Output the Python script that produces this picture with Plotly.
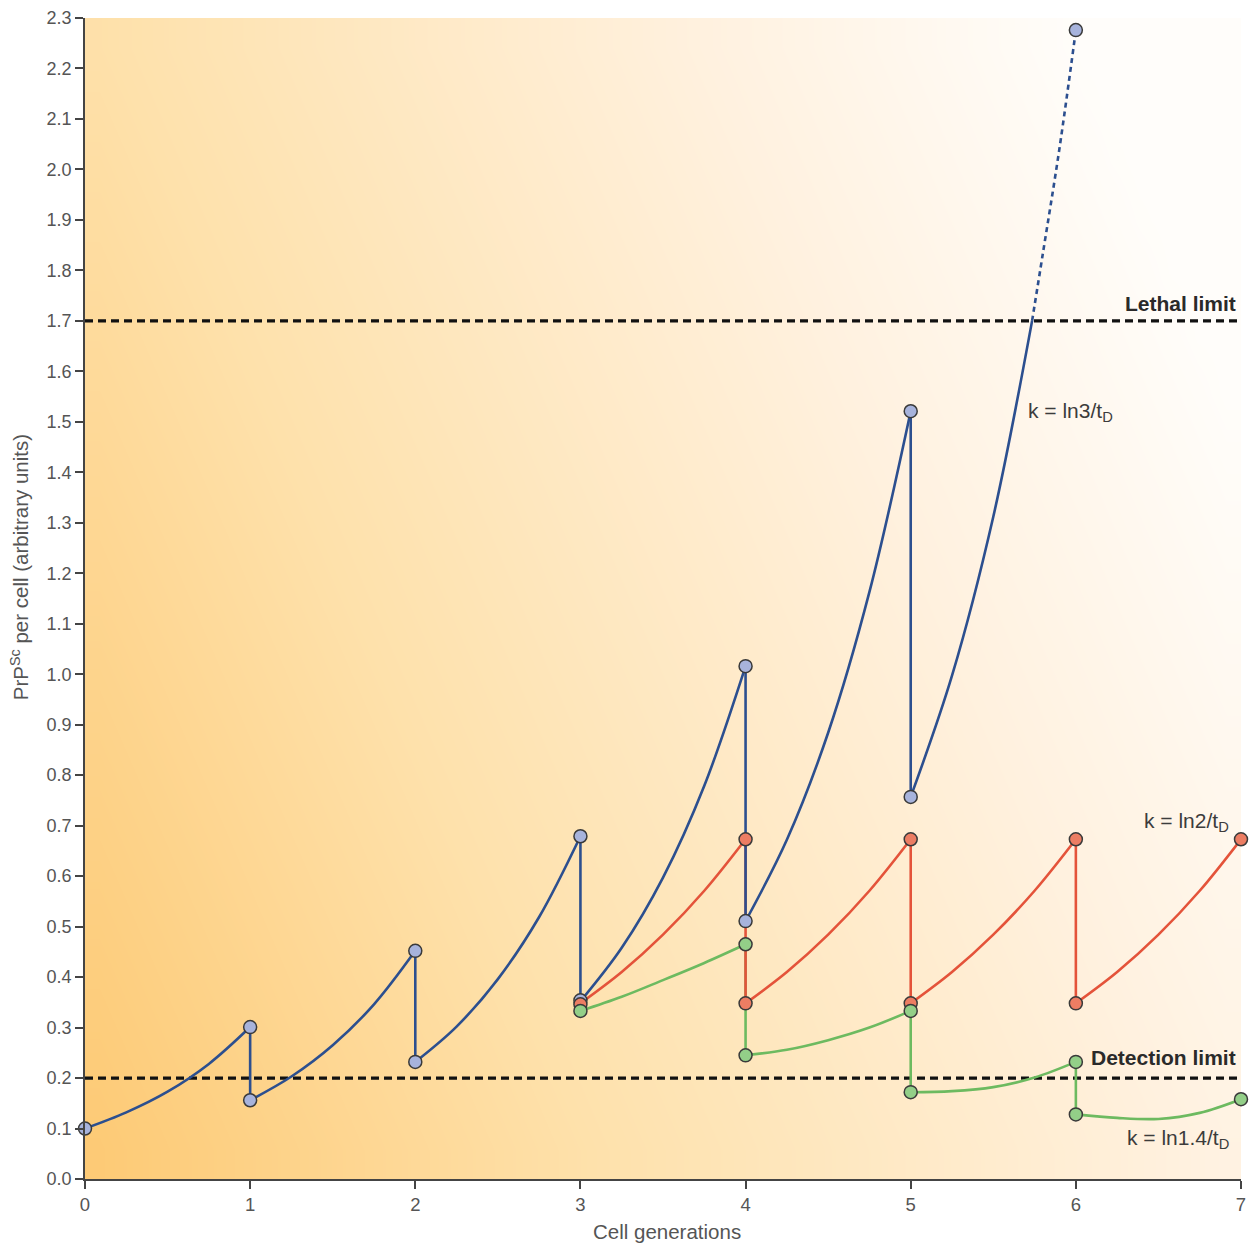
import numpy as np
import plotly.graph_objects as go

# ---------------- data ----------------
# Blue series k = ln3/tD : curve segments between generations (None separates segments)
blue_curve_x = [0, 0.25, 0.5, 0.75, 1, None,
                1, 1.25, 1.5, 1.75, 2, None,
                2, 2.25, 2.5, 2.75, 3, None,
                3, 3.25, 3.5, 3.75, 4, None,
                4, 4.25, 4.5, 4.75, 5, None,
                5, 5.25, 5.5, 5.735]
blue_curve_y = [0.100, 0.132, 0.173, 0.228, 0.301, None,
                0.156, 0.203, 0.265, 0.346, 0.452, None,
                0.232, 0.302, 0.396, 0.519, 0.679, None,
                0.352, 0.458, 0.597, 0.779, 1.016, None,
                0.511, 0.672, 0.884, 1.163, 1.521, None,
                0.757, 0.997, 1.312, 1.700]
blue_dashed_x = [5.735, 5.8, 5.9, 6.0]
blue_dashed_y = [1.700, 1.833, 2.040, 2.276]
blue_drop_x = [1, 1, None, 2, 2, None, 3, 3, None, 4, 4, None, 5, 5]
blue_drop_y = [0.301, 0.156, None, 0.452, 0.232, None, 0.679, 0.352, None,
               1.016, 0.511, None, 1.521, 0.757]
blue_marker_x = [0, 1, 1, 2, 2, 3, 3, 4, 4, 5, 5, 6]
blue_marker_y = [0.100, 0.301, 0.156, 0.452, 0.232, 0.679, 0.354, 1.016, 0.511,
                 1.521, 0.757, 2.276]

# Red series k = ln2/tD
red_curve_x = [3, 3.25, 3.5, 3.75, 4, None,
               4, 4.25, 4.5, 4.75, 5, None,
               5, 5.25, 5.5, 5.75, 6, None,
               6, 6.25, 6.5, 6.75, 7]
red_curve_y = [0.348, 0.410, 0.484, 0.571, 0.673, None,
               0.348, 0.410, 0.484, 0.571, 0.673, None,
               0.348, 0.410, 0.484, 0.571, 0.673, None,
               0.348, 0.410, 0.484, 0.571, 0.673]
red_drop_x = [4, 4, None, 5, 5, None, 6, 6]
red_drop_y = [0.673, 0.348, None, 0.673, 0.348, None, 0.673, 0.348]
red_marker_x = [3, 4, 4, 5, 5, 6, 6, 7]
red_marker_y = [0.346, 0.673, 0.348, 0.673, 0.348, 0.673, 0.348, 0.673]

# Green series k = ln1.4/tD
green_curve_x = [3, 3.25, 3.5, 3.75, 4, None,
                 4, 4.25, 4.5, 4.75, 5, None,
                 5, 5.25, 5.5, 5.75, 6, None,
                 6, 6.25, 6.5, 6.75, 7]
green_curve_y = [0.333, 0.361, 0.394, 0.428, 0.465, None,
                 0.245, 0.256, 0.275, 0.300, 0.333, None,
                 0.172, 0.174, 0.182, 0.201, 0.232, None,
                 0.128, 0.121, 0.119, 0.131, 0.158]
green_drop_x = [4, 4, None, 5, 5, None, 6, 6]
green_drop_y = [0.465, 0.245, None, 0.333, 0.172, None, 0.232, 0.128]
green_marker_x = [3, 4, 4, 5, 5, 6, 6, 7]
green_marker_y = [0.333, 0.465, 0.245, 0.333, 0.172, 0.232, 0.128, 0.158]

# Limits
limit_x = [0, 7.01]
lethal_limit = 1.7
detection_limit = 0.2

y_ticks = [round(0.1 * i, 1) for i in range(24)]
x_ticks = [0, 1, 2, 3, 4, 5, 6, 7]

# ---------------- styles ----------------
BLUE_LINE, BLUE_FILL = "#2c4f8f", "#a7b3dc"
RED_LINE, RED_FILL = "#e4533a", "#ec7d63"
GREEN_LINE, GREEN_FILL = "#6dba60", "#93cf88"
TEXT = "#3c3c3c"
AXIS_TEXT = "#555555"
FONT = "Liberation Sans, Arial, sans-serif"

fig = go.Figure()

# background gradient (decoration only)
nx, ny = 40, 20
gx = np.linspace(0, 7, nx + 1)
gy = np.linspace(0, 2.3, ny + 1)
cx = (gx[:-1] + gx[1:]) / 2 / 7
cy = (gy[:-1] + gy[1:]) / 2 / 2.3
gz = np.clip(0.78 * cx[None, :] + 0.34 * cy[:, None], 0, 1)
fig.add_trace(go.Heatmap(
    x=gx, y=gy, z=gz, zsmooth="best", showscale=False, hoverinfo="skip",
    zmin=0, zmax=1,
    colorscale=[[0, "#fdc973"], [0.35, "#fee1ab"], [0.75, "#fff1df"], [1, "#fffdfa"]],
))

# limit lines
for yv in (lethal_limit, detection_limit):
    fig.add_trace(go.Scatter(x=limit_x, y=[yv, yv], mode="lines",
                             line=dict(color="#111", width=3.2, dash="8px,5px"),
                             hoverinfo="skip", showlegend=False, cliponaxis=False))

def line_trace(x, y, color, shape="spline", dash=None, width=2.6):
    return go.Scatter(x=x, y=y, mode="lines",
                      line=dict(color=color, width=width, shape=shape, dash=dash),
                      connectgaps=False, hoverinfo="skip", showlegend=False,
                      cliponaxis=False)

fig.add_trace(line_trace(green_curve_x, green_curve_y, GREEN_LINE))
fig.add_trace(line_trace(green_drop_x, green_drop_y, GREEN_LINE, shape="linear"))
fig.add_trace(line_trace(red_curve_x, red_curve_y, RED_LINE))
fig.add_trace(line_trace(red_drop_x, red_drop_y, RED_LINE, shape="linear"))
fig.add_trace(line_trace(blue_curve_x, blue_curve_y, BLUE_LINE))
fig.add_trace(line_trace(blue_dashed_x, blue_dashed_y, BLUE_LINE, dash="5px,4px"))
fig.add_trace(line_trace(blue_drop_x, blue_drop_y, BLUE_LINE, shape="linear"))

for mx, my, fill in ((blue_marker_x, blue_marker_y, BLUE_FILL),
                     (red_marker_x, red_marker_y, RED_FILL),
                     (green_marker_x, green_marker_y, GREEN_FILL)):
    fig.add_trace(go.Scatter(x=mx, y=my, mode="markers",
                             marker=dict(size=13, color=fill,
                                         line=dict(color="#3a3a3a", width=1.5)),
                             hoverinfo="skip", showlegend=False, cliponaxis=False))

ann = [
    dict(x=6.98, y=1.735, text="<b>Lethal limit</b>", xanchor="right", yanchor="middle",
         font=dict(size=21, color="#2a2a2a")),
    dict(x=6.98, y=0.240, text="<b>Detection limit</b>", xanchor="right", yanchor="middle",
         font=dict(size=21, color="#2a2a2a")),
    dict(x=5.70, y=1.519, text="k = ln3/t<sub>D</sub>", xanchor="left", yanchor="middle",
         font=dict(size=21, color=TEXT)),
    dict(x=6.40, y=0.707, text="k = ln2/t<sub>D</sub>", xanchor="left", yanchor="middle",
         font=dict(size=21, color=TEXT)),
    dict(x=6.30, y=0.079, text="k = ln1.4/t<sub>D</sub>", xanchor="left", yanchor="middle",
         font=dict(size=21, color=TEXT)),
    dict(xref="paper", yref="paper", x=-0.0562, y=0.527,
         text="PrP<sup>Sc</sup> per cell (arbitrary units)", textangle=-90,
         xanchor="center", yanchor="middle", font=dict(size=20.5, color=AXIS_TEXT)),
    dict(xref="paper", yref="paper", x=0.5035, y=-0.0456,
         text="Cell generations", xanchor="center", yanchor="middle",
         font=dict(size=20.5, color=AXIS_TEXT)),
]
for a in ann:
    a.setdefault("showarrow", False)
    fig.add_annotation(**a)

# The page body has an 8 px margin; size the figure so the plot area lands
# where the reference's does inside the 1259x1243 window.
fig.update_layout(
    width=1251, height=1235,
    margin=dict(l=77, r=18, t=10, b=64, autoexpand=False),
    paper_bgcolor="white", plot_bgcolor="white",
    font=dict(family=FONT, color=TEXT),
    showlegend=False,
    xaxis=dict(range=[0, 7], tickvals=x_ticks, ticktext=[str(v) for v in x_ticks],
               showgrid=False, zeroline=False, showline=True, linecolor="#444",
               linewidth=1.5, ticks="outside", ticklen=8, tickwidth=1.5, tickcolor="#444",
               automargin=False, ticklabeloverflow="allow",
               tickfont=dict(size=18.5, color=AXIS_TEXT)),
    yaxis=dict(range=[0, 2.3], tickvals=y_ticks, ticktext=[f"{v:.1f}" for v in y_ticks],
               showgrid=False, zeroline=False, showline=True, linecolor="#444",
               linewidth=1.5, ticks="outside", ticklen=8, tickwidth=1.5, tickcolor="#444",
               automargin=False, ticklabeloverflow="allow",
               tickfont=dict(size=18, color=AXIS_TEXT)),
)

fig.write_html("out.html")
